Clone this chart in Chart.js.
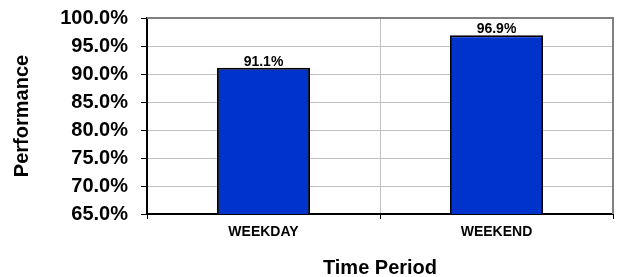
<!DOCTYPE html>
<html>
<head>
<meta charset="utf-8">
<script src="https://cdn.jsdelivr.net/npm/chart.js@4/dist/chart.umd.min.js"></script>
<style>
  html, body { margin: 0; padding: 0; background: #fff; }
  #wrap { width: 619px; height: 277px; }
</style>
</head>
<body>
<div id="wrap"><canvas id="perfChart" width="619" height="277"></canvas></div>
<script>
// Chart data
const categories = ['WEEKDAY', 'WEEKEND'];
const performance = [91.1, 96.9];
const yMin = 65, yMax = 100, yStep = 5;

const FONT = 'Arial, "Liberation Sans", sans-serif';

// Value labels above each bar
const barLabels = {
    id: 'barLabels',
    afterDatasetsDraw(chart) {
        const ctx = chart.ctx;
        const meta = chart.getDatasetMeta(0);
        ctx.save();
        ctx.font = 'bold 14px ' + FONT;
        ctx.fillStyle = '#000';
        ctx.textAlign = 'center';
        ctx.textBaseline = 'bottom';
        meta.data.forEach((bar, i) => {
            ctx.fillText(performance[i].toFixed(1) + '%', bar.x, bar.y + 1);
        });
        ctx.restore();
    }
};

// Gray frame on top and right of the plot area
const plotFrame = {
    id: 'plotFrame',
    afterDraw(chart) {
        const a = chart.chartArea;
        const ctx = chart.ctx;
        ctx.save();
        ctx.strokeStyle = '#808080';
        ctx.lineWidth = 2;
        ctx.beginPath();
        ctx.moveTo(a.left, a.top);
        ctx.lineTo(a.right, a.top);
        ctx.lineTo(a.right, a.bottom);
        ctx.stroke();
        ctx.restore();
    }
};

new Chart(document.getElementById('perfChart'), {
    type: 'bar',
    data: {
        labels: categories,
        datasets: [{
            data: performance,
            backgroundColor: '#0033CC',
            borderColor: '#000',
            borderWidth: 2,
            borderSkipped: false,
            barPercentage: 0.4,
            categoryPercentage: 1
        }]
    },
    options: {
        responsive: false,
        animation: false,
        layout: { padding: { top: 18, right: 6, left: 0, bottom: 0 } },
        plugins: {
            legend: { display: false },
            tooltip: { enabled: false }
        },
        scales: {
            x: {
                afterFit(scale) { scale.height = 63; },
                grid: {
                    color: '#c0c0c0',
                    tickColor: '#000',
                    tickLength: 5,
                    offset: true
                },
                border: { color: '#000', width: 2 },
                ticks: {
                    color: '#000',
                    font: { family: FONT, size: 14, weight: 'bold' },
                    padding: 5
                },
                title: {
                    display: true,
                    text: 'Time Period',
                    color: '#000',
                    font: { family: FONT, size: 20, weight: 'bold', lineHeight: 1 },
                    padding: { top: 0, bottom: -1 }
                }
            },
            y: {
                min: yMin,
                max: yMax,
                afterFit(scale) { scale.width = 147; },
                grid: {
                    color: '#c0c0c0',
                    tickColor: '#000',
                    tickLength: 6
                },
                border: { color: '#000', width: 2 },
                ticks: {
                    stepSize: yStep,
                    color: '#000',
                    padding: 13,
                    font: { family: FONT, size: 20, weight: 'bold', lineHeight: 0.4 },
                    callback: v => v.toFixed(1) + '%'
                },
                title: {
                    display: true,
                    text: 'Performance',
                    color: '#000',
                    font: { family: FONT, size: 20, weight: 'bold' },
                    padding: { top: 10, bottom: 0 }
                }
            }
        }
    },
    plugins: [barLabels, plotFrame]
});
</script>
</body>
</html>
